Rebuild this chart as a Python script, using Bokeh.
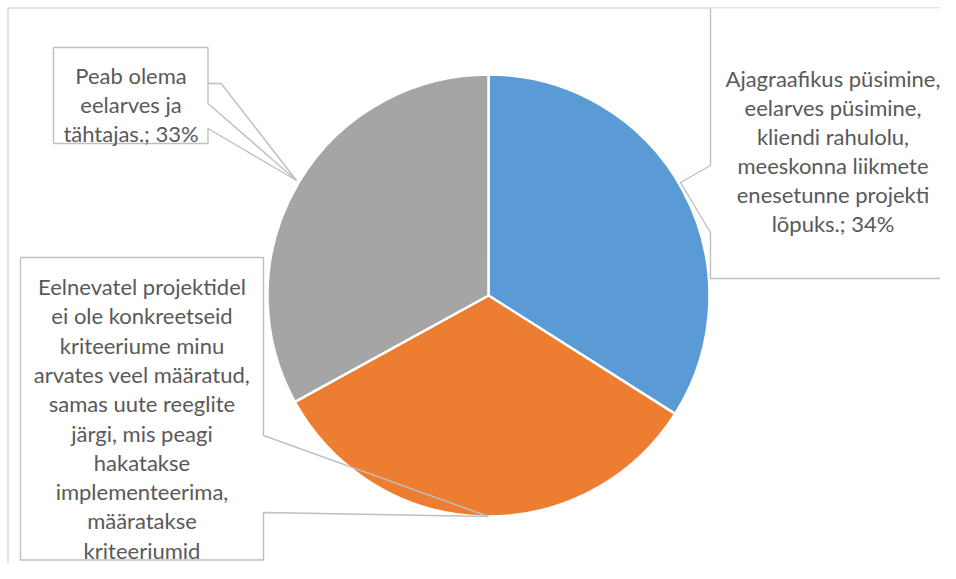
import numpy as np
from bokeh.plotting import figure
from bokeh.models import Range1d, ColumnDataSource
from bokeh.embed import file_html
from bokeh.resources import INLINE
from bokeh.core.properties import value

# ---------------- data ----------------
categories = [
    "Ajagraafikus püsimine, eelarves püsimine, kliendi rahulolu, meeskonna liikmete enesetunne projekti lõpuks.",
    "Eelnevatel projektidel ei ole konkreetseid kriteeriume minu arvates veel määratud, samas uute reeglite järgi, mis peagi hakatakse implementeerima, määratakse kriteeriumid",
    "Peab olema eelarves ja tähtajas.",
]
shares = [34, 33, 33]
colors = ["#5B9BD5", "#ED7D31", "#A5A5A5"]

label_blue = ["Ajagraafikus püsimine,", "eelarves püsimine,", "kliendi rahulolu,",
              "meeskonna liikmete", "enesetunne projekti", "lõpuks.; 34%"]
label_orange = ["Eelnevatel projektidel", "ei ole konkreetseid", "kriteeriume minu",
                "arvates veel määratud,", "samas uute reeglite", "järgi, mis peagi",
                "hakatakse", "implementeerima,", "määratakse", "kriteeriumid"]
label_gray = ["Peab olema", "eelarves ja", "tähtajas.; 33%"]

# ---------------- layout ----------------
W, H = 940, 563
FONT = "Lato"
FS = "22px"
TXT = "#595959"
BOX = "#BFBFBF"


def Y(py):
    return -np.asarray(py, dtype=float)


p = figure(width=W, height=H, x_range=Range1d(0, W), y_range=Range1d(-H, 0),
           output_backend="svg", toolbar_location=None, min_border=0)
p.axis.visible = False
p.grid.visible = False
p.outline_line_color = None
p.background_fill_color = "white"

# chart border (top and left visible)
p.line([7.5, 980], Y([7.5, 7.5]), line_color="#D9D9D9", line_width=1.5)
p.line([7.5, 7.5], Y([7.5, 600]), line_color="#D9D9D9", line_width=1.5)

# callout shapes (fill under pie)
blue_box_x = [710, 710, 680, 710, 710, 980, 980]
blue_box_y = [8, 165, 182, 232, 278, 278, 8]
orange_box_x = [20, 263, 263, 488, 263, 263, 20]
orange_box_y = [257, 257, 435, 516, 512, 559.5, 559.5]
gray_box_x = [53, 207.5, 207.5, 220.7, 296, 207.5, 207.5, 53]
gray_box_y = [47, 47, 83, 83, 180, 128, 143, 143]
for bx, by in [(blue_box_x, blue_box_y), (orange_box_x, orange_box_y), (gray_box_x, gray_box_y)]:
    p.patch(bx, Y(by), fill_color="white", line_color=None)

# pie
cx, cy, r = 488, 295, 221
frac = np.cumsum([0] + shares) / float(sum(shares))
src = ColumnDataSource(dict(
    cat=categories,
    start=np.pi / 2 - frac[:-1] * 2 * np.pi,
    end=np.pi / 2 - frac[1:] * 2 * np.pi,
    color=colors,
))
p.wedge(x=cx, y=-cy, radius=r, start_angle="start", end_angle="end", direction="clock",
        fill_color="color", line_color="white", line_width=2.5, source=src)

# callout outlines (over pie)
p.line([980, 710, 710, 680, 710, 710], Y([278, 278, 232, 182, 165, 8]), line_color=BOX, line_width=1.4)
p.line(orange_box_x + [20], Y(orange_box_y + [257]), line_color=BOX, line_width=1.4)
p.line(gray_box_x + [53], Y(gray_box_y + [47]), line_color=BOX, line_width=1.4)
p.line([207.5, 207.5, 296], Y([83, 103, 180]), line_color=BOX, line_width=1.4)

# label texts
def add_label(lines, xc, y0, dy):
    p.text(x=[xc] * len(lines), y=Y([y0 + dy * i for i in range(len(lines))]), text=lines,
           text_align="center", text_baseline="alphabetic", text_font=value(FONT),
           text_font_size=FS, text_color=TXT)

add_label(label_blue, 832.5, 78, 29)
add_label(label_orange, 141.5, 286, 29.3)
add_label(label_gray, 130.5, 75, 29)

open("out.html", "w").write(file_html(p, INLINE))
